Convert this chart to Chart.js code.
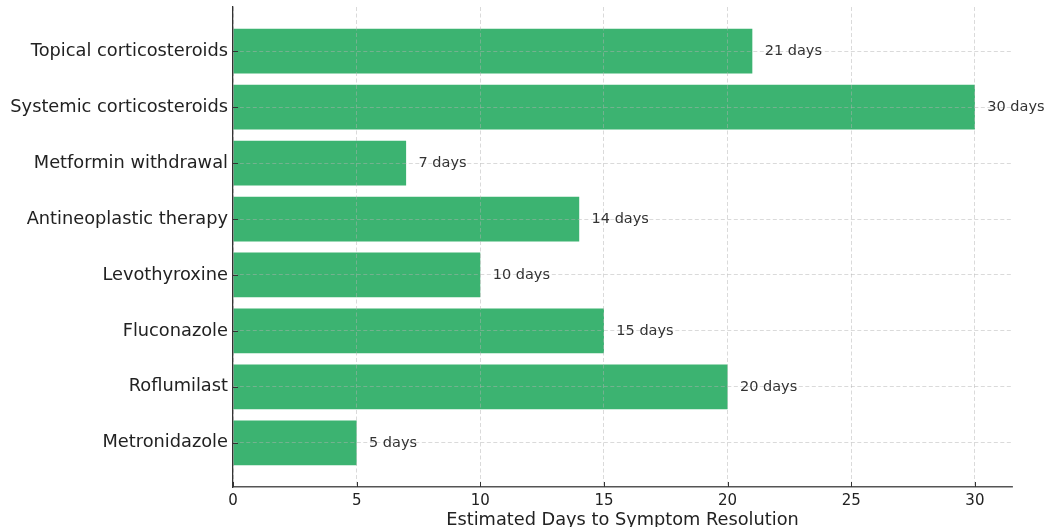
<!DOCTYPE html>
<html>
<head>
<meta charset="utf-8">
<script src="https://cdn.jsdelivr.net/npm/chart.js@4/dist/chart.umd.min.js"></script>
<style>
  html, body { margin: 0; padding: 0; background: #ffffff; }
  #wrap { width: 1047px; height: 527px; position: relative; }
</style>
</head>
<body>
<div id="wrap"><canvas id="chart"></canvas></div>
<script>
// Treatments and their estimated days to symptom resolution
const treatments = [
  'Topical corticosteroids',
  'Systemic corticosteroids',
  'Metformin withdrawal',
  'Antineoplastic therapy',
  'Levothyroxine',
  'Fluconazole',
  'Roflumilast',
  'Metronidazole'
];
const daysToResolution = [21, 30, 7, 14, 10, 15, 20, 5];
const xTickValues = [0, 5, 10, 15, 20, 25, 30];
const valueSuffix = ' days';
const xAxisTitle = 'Estimated Days to Symptom Resolution';

const FONT = "'DejaVu Sans', sans-serif";
const BAR_COLOR = '#3cb371';
const GRID_COLOR = 'rgba(176,176,176,0.6)';

// Inward tick marks and the value label at the end of each bar
const barDecorations = {
  id: 'barDecorations',
  afterDraw(chart) {
    const ctx = chart.ctx;
    const xs = chart.scales.x, ys = chart.scales.y;
    const area = chart.chartArea;
    ctx.save();
    ctx.strokeStyle = '#333333';
    ctx.lineWidth = 1;
    ctx.beginPath();
    xTickValues.forEach(v => {
      const px = Math.round(xs.getPixelForValue(v)) + 0.5;
      ctx.moveTo(px, area.bottom);
      ctx.lineTo(px, area.bottom - 5);
    });
    treatments.forEach((_, i) => {
      const py = Math.round(ys.getPixelForValue(i)) + 0.5;
      ctx.moveTo(area.left, py);
      ctx.lineTo(area.left + 5, py);
    });
    ctx.stroke();

    ctx.fillStyle = '#333333';
    ctx.font = '14.5px ' + FONT;
    ctx.textAlign = 'left';
    ctx.textBaseline = 'middle';
    daysToResolution.forEach((v, i) => {
      ctx.fillText(v + valueSuffix, xs.getPixelForValue(v + 0.5), ys.getPixelForValue(i));
    });
    ctx.restore();
  }
};

new Chart(document.getElementById('chart'), {
  type: 'bar',
  data: {
    datasets: [{
      data: daysToResolution.map((v, i) => ({ x: v, y: i })),
      backgroundColor: BAR_COLOR,
      borderWidth: 0,
      barPercentage: 0.8,
      categoryPercentage: 1.0
    }]
  },
  options: {
    indexAxis: 'y',
    responsive: true,
    maintainAspectRatio: false,
    animation: false,
    devicePixelRatio: 1,
    layout: { padding: { top: 7, right: 35, left: 0, bottom: 0 } },
    plugins: {
      legend: { display: false },
      tooltip: { enabled: false },
      title: { display: false }
    },
    scales: {
      x: {
        type: 'linear',
        position: 'bottom',
        min: 0,
        max: 31.5,
        z: 1,
        offset: false,
        afterBuildTicks(axis) { axis.ticks = xTickValues.map(v => ({ value: v })); },
        afterFit(axis) { axis.height = 40; axis.paddingLeft = 0; axis.paddingRight = 0; },
        ticks: {
          color: '#222222',
          font: { family: FONT, size: 15 },
          padding: 5,
          maxRotation: 0
        },
        grid: {
          color: GRID_COLOR,
          lineWidth: 0.8,
          drawTicks: false,
          offset: false,
          z: 1
        },
        border: { display: true, color: '#555555', width: 1.6, dash: [4, 2.5], z: 2 },
        title: {
          display: true,
          text: xAxisTitle,
          color: '#222222',
          font: { family: FONT, size: 17.75 },
          padding: { top: 0, bottom: -4 }
        }
      },
      y: {
        type: 'linear',
        position: 'left',
        reverse: true,
        min: -0.79,
        max: 7.79,
        z: 1,
        offset: false,
        afterBuildTicks(axis) { axis.ticks = treatments.map((_, i) => ({ value: i })); },
        afterFit(axis) { axis.width = 233; axis.paddingTop = 0; axis.paddingBottom = 0; },
        ticks: {
          autoSkip: false,
          color: '#222222',
          font: { family: FONT, size: 17.8 },
          padding: 5,
          callback: (v) => treatments[v]
        },
        grid: {
          color: GRID_COLOR,
          lineWidth: 0.8,
          drawTicks: false,
          offset: false,
          z: 1
        },
        border: { display: true, color: '#333333', width: 1.3, dash: [4, 2.5], z: 2 }
      }
    }
  },
  plugins: [barDecorations]
});
</script>
</body>
</html>
